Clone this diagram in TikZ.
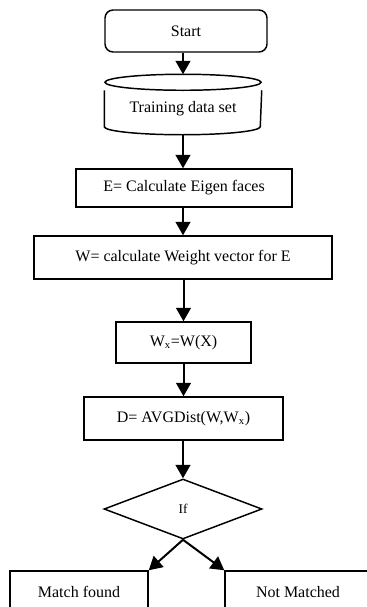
\documentclass[tikz,border=0pt]{standalone}
\usepackage{fontspec}
\setmainfont{Liberation Serif}
\usetikzlibrary{shapes.geometric,arrows.meta}

\tikzstyle{process} = [rectangle, minimum height=31.5pt, text centered, draw=black, line width=1.1pt, inner sep=0pt, font=\fontsize{12}{14}\selectfont]
\tikzstyle{startstop} = [process, rounded corners=6pt]
\tikzstyle{database} = [process, draw=none, minimum width=117pt, minimum height=26.25pt]
\tikzstyle{decision} = [diamond, draw=black, line width=1.1pt, inner sep=0pt, font=\fontsize{10}{10}\selectfont]
\tikzstyle{arrow} = [line width=1.5pt, -{Triangle[length=10pt,width=11pt]}]
\tikzstyle{border} = [line width=1.1pt]

\begin{document}
\begin{tikzpicture}[x=0.75pt, y=-0.75pt]
    \useasboundingbox (0,0) rectangle (367,607);
	\node (Start) at (186,31) [startstop, minimum width=121.5pt] {Start};
	\node (Data) at (183,108.5) [database] {Training data set};
	\node (Eigen) at (184,188) [process, minimum width=162pt, minimum height=28.5pt] {E= Calculate Eigen faces};
	\node (Weight) at (183,257.5) [process, minimum width=223.5pt, minimum height=32.25pt] {W= calculate Weight vector for E};
	\node (Wx) at (183.5,342.5) [process, minimum width=101.25pt, minimum height=30.75pt] {W\textsubscript{x}=W(X)};
	\node (Dist) at (183.5,418.5) [process, minimum width=149.25pt, minimum height=32.25pt] {D= AVGDist(W,W\textsubscript{x})};
	\node (If) at (183,509) [decision, minimum width=118.5pt, minimum height=45pt, aspect=2.63] {If};
	\node (Match) at (79,592) [process, minimum width=103.5pt] {Match found};
	\node (NoMatch) at (298,592) [process, minimum width=109.5pt] {Not Matched};
	% cylinder round the data set
	\draw [border] ([yshift=6pt]Data.north) ellipse [x radius=58.5pt, y radius=6pt];
	\draw [border] (Data.north west) -- (Data.south west) arc [start angle=180, end angle=360, x radius=58.5pt, y radius=6pt] -- (Data.north east);
	\draw [arrow] (Start.south -| Data.north) -- ([yshift=12pt]Data.north);
	\draw [arrow] ([yshift=-6pt]Data.south) -- (Data.south |- Eigen.north);
	\draw [arrow] (Data.south |- Eigen.south) -- (Data.south |- Weight.north);
	\draw [arrow] (Weight.south -| Wx.north) -- (Wx.north);
	\draw [arrow] (Wx.south) -- (Wx.south |- Dist.north);
	\draw [arrow] (Dist.south -| If.north) -- (If.north);
	\draw [arrow] (If.south) -- (Match.north east);
	\draw [arrow] (If.south) -- (NoMatch.north west);
\end{tikzpicture}
\end{document}
